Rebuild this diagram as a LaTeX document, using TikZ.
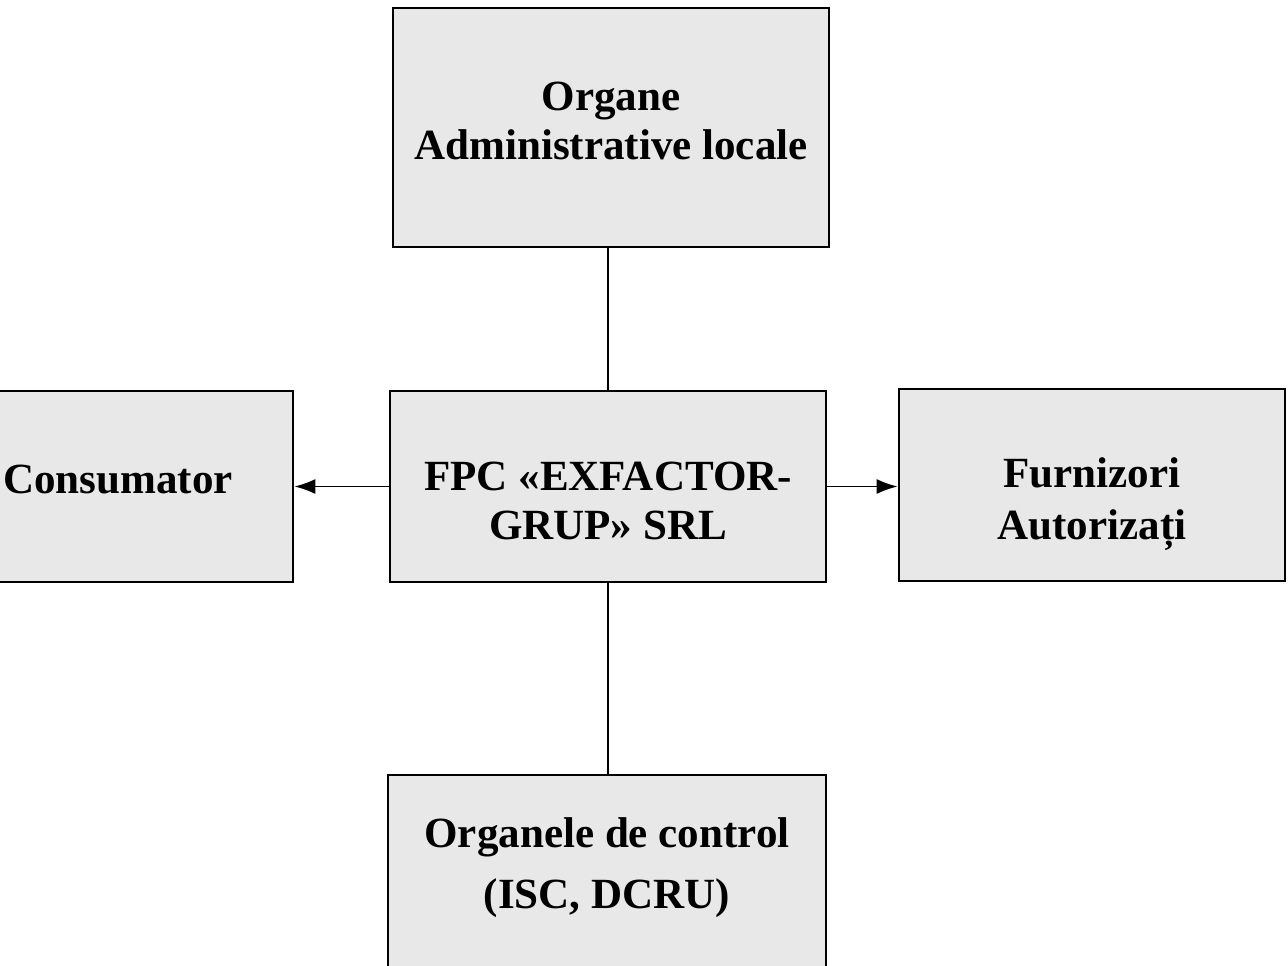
\documentclass[tikz,border=0pt]{standalone}
\usepackage{fontspec}
\setmainfont{Liberation Serif}
\usetikzlibrary{arrows.meta}
\begin{document}
\begin{tikzpicture}[
  every node/.style={rectangle,draw,line width=1.5pt,fill=black!9,align=center,
    font=\fontsize{24.5}{28}\selectfont\bfseries},
  link/.style={line width=1.1pt},
  >={Latex[length=0.42cm,width=0.3cm]}
]
  \useasboundingbox (0,0) rectangle (25.76,19.3);
  \begin{scope}
  \clip (0,0) rectangle (25.76,19.3);
  \node[minimum width=8.72cm,minimum height=4.78cm] (adm) at (12.22,16.75) {Organe\\Administrative locale\rule[-8pt]{0pt}{8pt}};
  \node[minimum width=8.72cm,minimum height=3.82cm] (fpc) at (12.16,9.57) {\rule{0pt}{33pt}FPC «EXFACTOR-\\GRUP» SRL};
  \node[minimum width=7.0cm,minimum height=3.82cm] (cons) at (2.36,9.57) {Consumator\rule[-8pt]{0pt}{8pt}};
  \node[minimum width=7.72cm,minimum height=3.84cm,font=\fontsize{24.5}{29.5}\selectfont\bfseries] (furn) at (21.84,9.6) {\rule{0pt}{39pt}Furnizori\\Autorizați};
  \node[minimum width=8.76cm,minimum height=4.78cm,font=\fontsize{24.5}{35}\selectfont\bfseries] (ctrl) at (12.14,1.41) {Organele de control\\(ISC, DCRU)\rule[-36pt]{0pt}{36pt}};

  \draw[link] (fpc.north) -- (fpc.north |- adm.south);
  \draw[link] (fpc.south) -- (fpc.south |- ctrl.north);
  \draw[link,->] (fpc.west) -- (cons.east);
  \draw[link,->] (fpc.east) -- (fpc.east -| furn.west);
  \end{scope}
\end{tikzpicture}
\end{document}
